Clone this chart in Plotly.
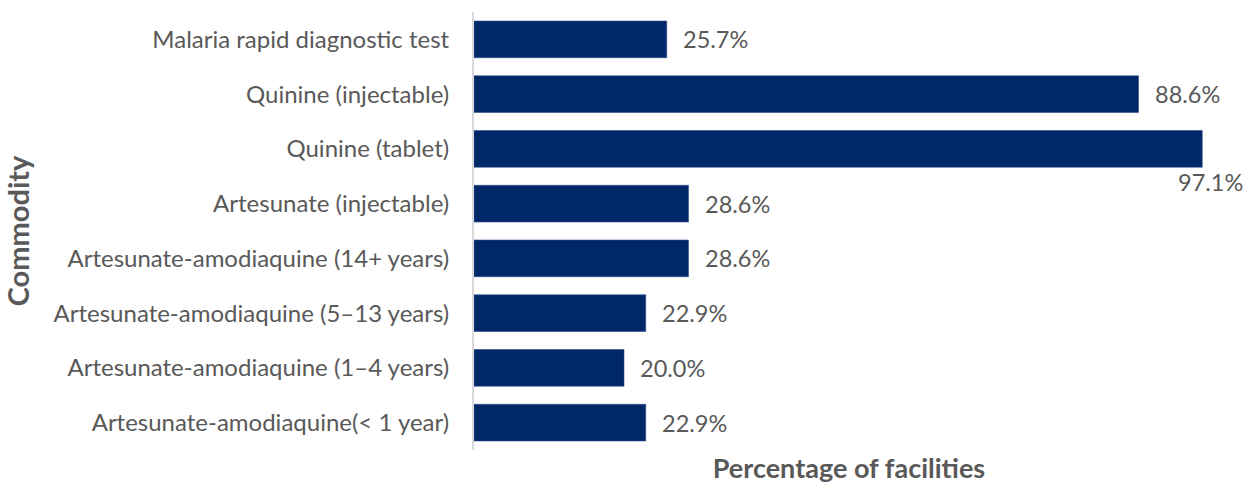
import plotly.graph_objects as go

categories = [
    "Malaria rapid diagnostic test",
    "Quinine (injectable)",
    "Quinine (tablet)",
    "Artesunate (injectable)",
    "Artesunate-amodiaquine (14+ years)",
    "Artesunate-amodiaquine (5–13 years)",
    "Artesunate-amodiaquine (1–4 years)",
    "Artesunate-amodiaquine(< 1 year)",
]
values = [25.7, 88.6, 97.1, 28.6, 28.6, 22.9, 20.0, 22.9]
labels = [f"{v:.1f}%" for v in values]

FONT = "Lato"
GREY = "#595959"
NAVY = "#002868"

fig = go.Figure(go.Bar(
    x=values, y=categories, orientation="h",
    marker=dict(color=NAVY, line=dict(color="#2f4f8f", width=0.6)),
    width=0.67, hoverinfo="skip",
))

annotations = []
for c, v, t in zip(categories, values, labels):
    if v > 95:
        annotations.append(dict(x=v, y=c, xref="x", yref="y", text=t, showarrow=False,
                                xanchor="right", yanchor="middle", xshift=43, yshift=-33,
                                font=dict(family=FONT, size=23.5, color=GREY)))
    else:
        annotations.append(dict(x=v, y=c, xref="x", yref="y", text=t, showarrow=False,
                                xanchor="left", yanchor="middle", xshift=14,
                                font=dict(family=FONT, size=23.5, color=GREY)))

fig.update_layout(
    width=1257, height=484,
    margin=dict(l=474, r=33, t=12, b=34),
    paper_bgcolor="white", plot_bgcolor="white",
    showlegend=False,
    annotations=annotations,
    font=dict(family=FONT, size=24, color=GREY),
    xaxis=dict(range=[0, 100], showgrid=False, zeroline=False, showticklabels=False,
               ticks="", showline=False, fixedrange=True,
               title=dict(text="<b>Percentage of facilities</b>", standoff=18,
                          font=dict(family=FONT, size=27, color=GREY))),
    yaxis=dict(autorange="reversed", showgrid=False, zeroline=False, ticks="",
               showline=True, linecolor="#d9d9d9", linewidth=2,
               ticklabelstandoff=18, automargin=False,
               tickfont=dict(family=FONT, size=24, color=GREY),
               title=dict(text="<b>Commodity</b>", standoff=16,
                          font=dict(family=FONT, size=29, color=GREY))),
    bargap=0.33,
)
fig.update_xaxes(automargin=False)

fig.write_html("out.html")
